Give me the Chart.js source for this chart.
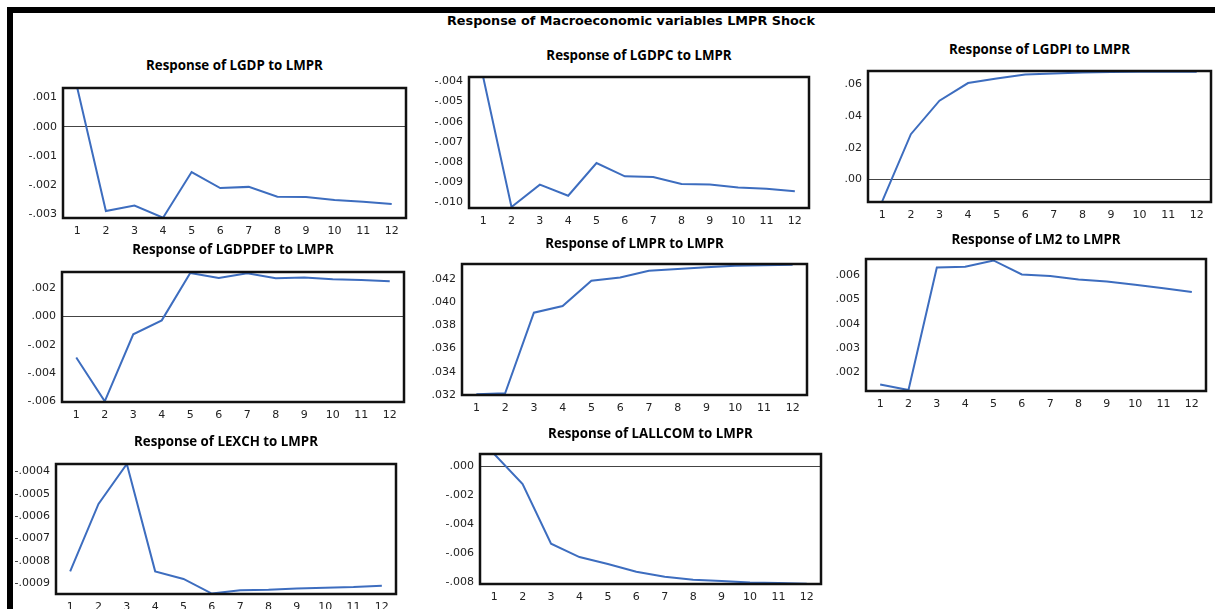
<!DOCTYPE html>
<html>
<head>
<meta charset="utf-8">
<script src="https://cdn.jsdelivr.net/npm/chart.js@4.4.1/dist/chart.umd.min.js"></script>
<style>
  body { margin: 0; background: #fff; width: 1215px; height: 609px; overflow: hidden; position: relative; }
  .bar-top { position: absolute; left: 7px; top: 7px; width: 1208px; height: 6px; background: #000; }
  .bar-left { position: absolute; left: 7px; top: 7px; width: 6px; height: 602px; background: #000; }
  .main-title { position: absolute; left: 231px; top: 13px; width: 800px; text-align: center;
    font: bold 12.8px "DejaVu Sans"; line-height: 16px; color: #000; }
  .panel-title { position: absolute; width: 400px; text-align: center; font: 700 13.3px "Open Sans";
    line-height: 16px; color: #000; }
  canvas { position: absolute; }
</style>
</head>
<body>
<div class="bar-top"></div>
<div class="bar-left"></div>
<div class="main-title">Response of Macroeconomic variables LMPR Shock</div>

<script>
// horizon (periods after shock)
const periods = ["1", "2", "3", "4", "5", "6", "7", "8", "9", "10", "11", "12"];

// impulse responses
const lgdp    = [0.00133, -0.00290, -0.00271, -0.00313, -0.00156, -0.00211, -0.00207, -0.00241, -0.00242, -0.00252, -0.00258, -0.00266];
const lgdpc   = [-0.00378, -0.01023, -0.00912, -0.00967, -0.00805, -0.00871, -0.00874, -0.00909, -0.00912, -0.00926, -0.00933, -0.00945];
const lgdpi   = [-0.0136, 0.0286, 0.0497, 0.0608, 0.0637, 0.0662, 0.0669, 0.0675, 0.0678, 0.0679, 0.0680, 0.0680];
const lgdpdef = [-0.00292, -0.00604, -0.00126, -0.00027, 0.00311, 0.00275, 0.00309, 0.00273, 0.00278, 0.00266, 0.00261, 0.00252];
const lmpr    = [0.03206, 0.03215, 0.0391, 0.03967, 0.04185, 0.04214, 0.04272, 0.04286, 0.04303, 0.04315, 0.0432, 0.04323];
const lm2     = [0.00148, 0.00125, 0.00633, 0.00636, 0.00662, 0.00604, 0.00598, 0.00583, 0.00575, 0.00561, 0.00547, 0.00531];
const lexch   = [-0.000846, -0.000545, -0.000367, -0.000846, -0.00088, -0.000945, -0.00093, -0.000928, -0.000922, -0.000919, -0.000916, -0.00091];
const lallcom = [0.00086, -0.00121, -0.00533, -0.00625, -0.00673, -0.00726, -0.00761, -0.00781, -0.0079, -0.008, -0.00804, -0.00809];

// y tick values per panel
const ticksLgdp    = [-0.003, -0.002, -0.001, 0, 0.001];
const ticksLgdpc   = [-0.010, -0.009, -0.008, -0.007, -0.006, -0.005, -0.004];
const ticksLgdpi   = [0, 0.02, 0.04, 0.06];
const ticksLgdpdef = [-0.006, -0.004, -0.002, 0, 0.002];
const ticksLmpr    = [0.032, 0.034, 0.036, 0.038, 0.040, 0.042];
const ticksLm2     = [0.002, 0.003, 0.004, 0.005, 0.006];
const ticksLexch   = [-0.0009, -0.0008, -0.0007, -0.0006, -0.0005, -0.0004];
const ticksLallcom = [-0.008, -0.006, -0.004, -0.002, 0];

// panel frames: box = [left, top, right, bottom], axis range, title centre y
const panels = [
  { title: "Response of LGDP to LMPR",    data: lgdp,    ticks: ticksLgdp,    dec: 3, min: -0.00314, max: 0.00133,  box: [63, 88, 406, 218],   ty: 65 },
  { title: "Response of LGDPC to LMPR",   data: lgdpc,   ticks: ticksLgdpc,   dec: 3, min: -0.01028, max: -0.00378, box: [469, 77, 809, 208],  ty: 55 },
  { title: "Response of LGDPI to LMPR",   data: lgdpi,   ticks: ticksLgdpi,   dec: 2, min: -0.0141,  max: 0.0684,   box: [868, 71, 1211, 202], ty: 49 },
  { title: "Response of LGDPDEF to LMPR", data: lgdpdef, ticks: ticksLgdpdef, dec: 3, min: -0.00609, max: 0.00318,  box: [62, 272, 404, 402],  ty: 249 },
  { title: "Response of LMPR to LMPR",    data: lmpr,    ticks: ticksLmpr,    dec: 3, min: 0.0320,   max: 0.0433,   box: [462, 264, 807, 395], ty: 243 },
  { title: "Response of LM2 to LMPR",     data: lm2,     ticks: ticksLm2,     dec: 3, min: 0.00121,  max: 0.00668,  box: [866, 259, 1206, 391], ty: 239 },
  { title: "Response of LEXCH to LMPR",   data: lexch,   ticks: ticksLexch,   dec: 4, min: -0.000947, max: -0.000367, box: [56, 464, 396, 594], ty: 441 },
  { title: "Response of LALLCOM to LMPR", data: lallcom, ticks: ticksLallcom, dec: 3, min: -0.00811, max: 0.00086,  box: [480, 454, 821, 584], ty: 433 },
];

const Y_AXIS_W = 60, PAD_TOP = 8, PAD_RIGHT = 6, X_AXIS_H = 24;

// eviews style labels: .001, -.003
function fmt(v, dec) {
  const s = Math.abs(v).toFixed(dec).replace(/^0/, "");
  return (v < -1e-12 ? "-" : "") + s;
}

// black box round the plot area
const framePlugin = {
  id: "frame",
  afterDraw(chart) {
    const a = chart.chartArea, ctx = chart.ctx;
    ctx.save();
    ctx.strokeStyle = "#111";
    ctx.lineWidth = 2.5;
    ctx.strokeRect(a.left, a.top, a.right - a.left, a.bottom - a.top);
    ctx.restore();
  },
};

panels.forEach((p) => {
  const [l, t, r, b] = p.box;

  const title = document.createElement("div");
  title.className = "panel-title";
  title.textContent = p.title;
  title.style.left = ((l + r) / 2 - 200) + "px";
  title.style.top = (p.ty - 8) + "px";
  document.body.appendChild(title);

  const canvas = document.createElement("canvas");
  canvas.width = (r - l) + Y_AXIS_W + PAD_RIGHT;
  canvas.height = (b - t) + PAD_TOP + X_AXIS_H;
  canvas.style.left = (l - Y_AXIS_W) + "px";
  canvas.style.top = (t - PAD_TOP) + "px";
  document.body.appendChild(canvas);

  new Chart(canvas.getContext("2d"), {
    type: "line",
    data: {
      labels: periods,
      datasets: [{
        data: p.data,
        borderColor: "#3d6dbf",
        borderWidth: 2,
        pointRadius: 0,
        tension: 0,
        fill: false,
      }],
    },
    options: {
      responsive: false,
      animation: false,
      layout: { padding: { top: PAD_TOP, right: PAD_RIGHT, left: 0, bottom: 0 } },
      plugins: { legend: { display: false }, tooltip: { enabled: false } },
      scales: {
        x: {
          offset: true,
          grid: { display: false },
          border: { display: false },
          ticks: { color: "#222", font: { family: "DejaVu Sans", size: 11 }, padding: -1, maxRotation: 0, autoSkip: false },
          afterFit: (s) => { s.height = X_AXIS_H; s.paddingLeft = 0; s.paddingRight = 0; },
        },
        y: {
          min: p.min,
          max: p.max,
          border: { display: false },
          grid: {
            drawTicks: false,
            lineWidth: 1,
            color: (c) => (c.tick && c.tick.value === 0 ? "#444" : "rgba(0,0,0,0)"),
          },
          ticks: {
            color: "#222",
            font: { family: "DejaVu Sans", size: 11 },
            padding: 6,
            callback: (v) => fmt(v, p.dec),
          },
          afterBuildTicks: (s) => { s.ticks = p.ticks.map((v) => ({ value: v })); },
          afterFit: (s) => { s.width = Y_AXIS_W; s.paddingTop = 0; s.paddingBottom = 0; },
        },
      },
    },
    plugins: [framePlugin],
  });
});
</script>
</body>
</html>
